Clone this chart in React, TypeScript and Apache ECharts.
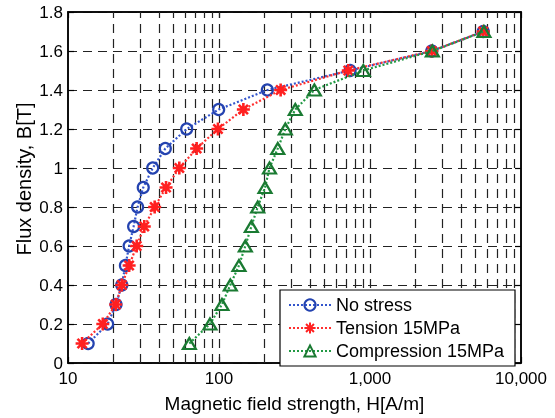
import React, { useEffect, useRef } from 'react';
import * as echarts from 'echarts';

const B_VALUES = [0.1, 0.2, 0.3, 0.4, 0.5, 0.6, 0.7, 0.8, 0.9, 1.0, 1.1, 1.2, 1.3, 1.4, 1.5, 1.6, 1.7];
const H_NO_STRESS = [13.6, 18.3, 20.8, 22.7, 24.0, 25.4, 27.2, 28.9, 31.5, 36.4, 44.1, 61.1, 99.5, 209, 738, 2565, 5623];
const H_TENSION = [12.4, 17.0, 20.7, 22.7, 25.4, 28.5, 32.0, 37.5, 44.6, 54.6, 71.1, 98.4, 145, 256, 718, 2565, 5623];
const H_COMPRESSION = [63.6, 87.1, 104.6, 118.8, 135.6, 149.4, 163.7, 180.4, 201.7, 216, 245, 275, 320, 428, 903, 2588, 5680];
const SERIES_NAMES = ['No stress', 'Tension 15MPa', 'Compression 15MPa'];
const X_GRID_VALUES = [20, 30, 40, 50, 60, 70, 80, 90, 100, 200, 300, 400, 500, 600, 700, 800, 900, 1000, 2000, 3000, 4000, 5000, 6000, 7000, 8000, 9000];
const X_TITLE = 'Magnetic field strength, H[A/m]';
const Y_TITLE = 'Flux density, B[T]';

const ASTERISK = 'path://M6 0L6 12M0 6L12 6M1.76 1.76L10.24 10.24M1.76 10.24L10.24 1.76';

export default function App() {
  const ref = useRef<HTMLDivElement>(null);
  useEffect(() => {
    const chart = echarts.init(ref.current as HTMLDivElement, null, { renderer: 'svg' });
    const font = "'Liberation Sans', Arial, sans-serif";
    const gridLine = { color: '#222', width: 1.2, type: [9, 6] };
    const toPairs = (h: number[]) => h.map((v, i) => [v, B_VALUES[i]]);
    chart.setOption({
      animation: false,
      textStyle: { fontFamily: font, color: '#000' },
      grid: { left: 68, right: 34, top: 12, bottom: 51, show: true, borderColor: '#000', borderWidth: 1.5, backgroundColor: 'transparent' },
      graphic: [
        {
          type: 'text', x: 24, y: 179, rotation: Math.PI / 2,
          style: { text: Y_TITLE, fontSize: 20, fontFamily: font, fill: '#000', align: 'center', verticalAlign: 'middle' },
        },
      ],
      xAxis: [
        {
          type: 'log', logBase: 10, min: 10, max: 10000,
          name: X_TITLE, nameLocation: 'middle', nameGap: 31,
          nameTextStyle: { fontSize: 19, color: '#000', fontFamily: font },
          axisLine: { show: true, onZero: false, lineStyle: { color: '#000', width: 1.5 } },
          axisTick: { show: true, inside: true, length: 6, lineStyle: { color: '#000', width: 1.2 } },
          axisLabel: { fontSize: 17, color: '#000', margin: 7, fontFamily: font, formatter: (v: number) => Math.round(v).toLocaleString('en-US') },
          splitLine: { show: false },
        },
        {
          type: 'log', logBase: 10, min: 10, max: 10000, position: 'top',
          axisLine: { show: true, onZero: false, lineStyle: { color: '#000', width: 1.5 } },
          axisTick: { show: true, inside: true, length: 6, lineStyle: { color: '#000', width: 1.2 } },
          axisLabel: { show: false },
          splitLine: { show: false },
        },
      ],
      yAxis: [
        {
          type: 'value', min: 0, max: 1.8, interval: 0.2,
          axisLine: { show: true, lineStyle: { color: '#000', width: 1.5 } },
          axisTick: { show: true, inside: true, length: 6, lineStyle: { color: '#000', width: 1.2 } },
          axisLabel: { fontSize: 17, color: '#000', margin: 5, fontFamily: font },
          splitLine: { show: true, lineStyle: gridLine },
        },
        {
          type: 'value', min: 0, max: 1.8, interval: 0.2, position: 'right',
          axisLine: { show: true, lineStyle: { color: '#000', width: 1.5 } },
          axisTick: { show: true, inside: true, length: 6, lineStyle: { color: '#000', width: 1.2 } },
          axisLabel: { show: false },
          splitLine: { show: false },
        },
      ],
      legend: {
        orient: 'vertical', left: 280, top: 290,
        padding: [6, 7, 6, 8],
        backgroundColor: '#fff', borderColor: '#000', borderWidth: 1.2, borderRadius: 0,
        itemWidth: 42, itemHeight: 14, itemGap: 5,
        textStyle: { fontSize: 18, lineHeight: 18, color: '#000', width: 172, fontFamily: font },
        data: SERIES_NAMES,
      },
      series: [
        {
          name: SERIES_NAMES[0], type: 'line', data: toPairs(H_NO_STRESS),
          symbol: 'circle', symbolSize: 11,
          itemStyle: { color: 'rgba(0,0,0,0)', borderColor: '#2443b0', borderWidth: 2.2 },
          lineStyle: { color: '#3355cc', width: 2.2, type: [2, 2] },
          z: 3,
          markLine: {
            silent: true, symbol: 'none', z: 1, animation: false,
            label: { show: false },
            lineStyle: gridLine,
            emphasis: { disabled: true },
            data: X_GRID_VALUES.map((v) => ({ xAxis: v })),
          },
        },
        {
          name: SERIES_NAMES[1], type: 'line', data: toPairs(H_TENSION),
          symbol: ASTERISK, symbolSize: 13,
          itemStyle: { color: '#ff2020', borderColor: '#ff2020', borderWidth: 2.6 },
          lineStyle: { color: '#ff3030', width: 2.2, type: [2, 2] },
          z: 4,
        },
        {
          name: SERIES_NAMES[2], type: 'line', data: toPairs(H_COMPRESSION),
          symbol: 'triangle', symbolSize: [13, 11],
          itemStyle: { color: 'rgba(0,0,0,0)', borderColor: '#1a7a32', borderWidth: 2.2 },
          lineStyle: { color: '#229944', width: 2.2, type: [2, 2] },
          z: 5,
        },
      ],
    });
    return () => chart.dispose();
  }, []);
  return <div ref={ref} style={{ position: 'fixed', left: 0, top: 0, width: 555, height: 418 }} />;
}
